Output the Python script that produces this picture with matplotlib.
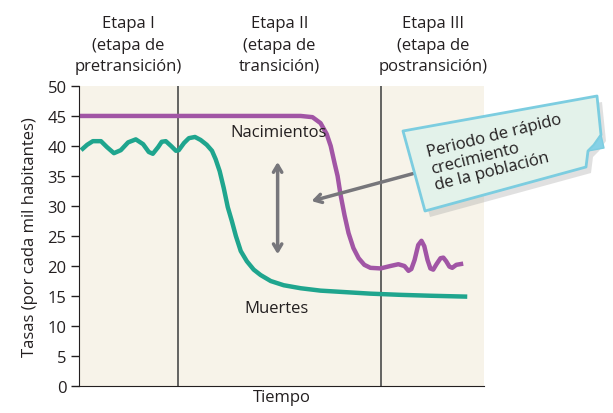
import matplotlib.pyplot as plt
from matplotlib.patches import Polygon
import numpy as np

# data (time in arbitrary units 0-100)
birth_t = [0, 54.7, 57.6, 59.6, 61.1, 62.1, 63.1, 63.8, 64.5, 65.5, 66.5, 67.7, 69.0, 70.4,
           71.9, 74.4, 76.8, 78.8, 80.3, 81.3, 82.0, 82.8, 83.7, 84.5, 85.2, 86.0, 86.7,
           87.4, 88.2, 89.2, 89.9, 90.6, 91.4, 92.1, 93.1, 94.8]
birth_rate = [45, 45, 44.8, 43.8, 42, 40, 37, 35, 32, 28.5, 25.5, 23, 21.3, 20.2,
              19.7, 19.6, 20.0, 20.3, 20.0, 19.2, 19.5, 21, 23.5, 24.2, 23.3, 21, 19.6,
              19.4, 20.3, 21.3, 21.4, 20.8, 19.9, 19.7, 20.2, 20.4]

death_t = [0.5, 2.0, 3.4, 5.4, 6.9, 8.6, 10.3, 12.1, 14.0, 15.8, 17.2, 18.2, 19.5, 20.4,
           21.4, 22.7, 23.9, 24.6, 25.9, 27.1, 28.6, 30.0, 31.5, 32.8, 33.7, 34.7, 35.7,
           36.7, 37.7, 38.7, 39.9, 41.4, 43.1, 44.8, 47.3, 50.5, 54.7, 59.6, 64.5, 71.9,
           79.3, 86.7, 95.8]
death_rate = [39.3, 40.2, 40.8, 40.8, 39.8, 38.8, 39.3, 40.6, 41.1, 40.3, 39, 38.7, 39.8, 40.7,
              40.8, 40.0, 39.2, 39.3, 40.5, 41.3, 41.5, 41.0, 40.2, 39.2, 37.8, 35.8, 33,
              29.8, 27.5, 25, 22.5, 20.8, 19.4, 18.5, 17.5, 16.8, 16.3, 15.9, 15.7, 15.4,
              15.2, 15.05, 14.9]

stage_bounds = [24.4, 74.6]
stage_labels = ['Etapa I\n(etapa de\npretransición)',
                'Etapa II\n(etapa de\ntransición)',
                'Etapa III\n(etapa de\npostransición)']
yticks = [0, 5, 10, 15, 20, 25, 30, 35, 40, 45, 50]
callout = 'Periodo de rápido\ncrecimiento\nde la población'

plt.rcParams['font.family'] = ['Open Sans', 'DejaVu Sans']

W, H = 613, 414
fig = plt.figure(figsize=(W / 100, H / 100), dpi=100)
ax = fig.add_axes([0.129, 0.065, 0.661, 0.725])
ax.set_facecolor('#f7f3e9')

purple = '#a155a5'
teal = '#1fa58e'
grey = '#77767b'
ink = '#231f20'

ax.plot(birth_t, birth_rate, color=purple, lw=3.2, solid_capstyle='butt', solid_joinstyle='round')
ax.plot(death_t, death_rate, color=teal, lw=3.2, solid_capstyle='butt', solid_joinstyle='round')

for b in stage_bounds:
    ax.axvline(b, color='#4a4a4a', lw=1.2, zorder=1)

edges = [0] + stage_bounds + [100]
for i, lab in enumerate(stage_labels):
    ax.text((edges[i] + edges[i + 1]) / 2, 52.0, lab, ha='center', va='bottom',
            fontsize=12, color=ink, linespacing=1.45, clip_on=False)

ax.set_xlim(0, 100)
ax.set_ylim(0, 50)
ax.set_yticks(yticks)
ax.set_xticks([])
ax.tick_params(axis='y', labelsize=12, length=6, width=1, colors=ink, pad=3)
for s in ['top', 'right']:
    ax.spines[s].set_visible(False)
ax.spines['left'].set_color(ink)
ax.spines['bottom'].set_color(ink)
ax.set_ylabel('Tasas (por cada mil habitantes)', fontsize=12, color=ink, labelpad=7)
ax.set_xlabel('Tiempo', fontsize=12, color=ink, labelpad=2)

ax.text(49.3, 42.3, 'Nacimientos', ha='center', va='center', fontsize=12, color=ink)
ax.text(48.8, 13.0, 'Muertes', ha='center', va='center', fontsize=12, color=ink)

ax.annotate('', xy=(49.0, 21.5), xytext=(49.0, 37.8),
            arrowprops=dict(arrowstyle='<->,head_length=0.5,head_width=0.3', color=grey, lw=2.5))
ax.annotate('', xy=(56.7, 30.7), xytext=(83.0, 35.5),
            arrowprops=dict(arrowstyle='->,head_length=0.5,head_width=0.3', color=grey, lw=2.5))

# callout note (pixel outline converted to figure fraction)
def fig_pts(pts, dx=0, dy=0):
    return [((x + dx) / W, 1 - (y + dy) / H) for x, y in pts]

box = [(403, 132), (597, 97), (601, 136), (594, 146), (588, 152), (586, 168), (425, 212)]
fold = [(601, 136), (604, 149), (588, 152), (594, 146)]
fig.add_artist(Polygon(fig_pts(box, 5, 6), closed=True, transform=fig.transFigure,
                       fc='#9a9a9a', ec='none', alpha=0.3))
fig.add_artist(Polygon(fig_pts(box), closed=True, transform=fig.transFigure,
                       fc='#e3f2ea', ec='#7ccde0', lw=2, joinstyle='round'))
fig.add_artist(Polygon(fig_pts(fold), closed=True, transform=fig.transFigure,
                       fc='#86d1e6', ec='#7ccde0', lw=1, joinstyle='round'))
fig.text(498 / W, 1 - 153 / H, callout, rotation=14,
         ha='center', va='center', multialignment='left', rotation_mode='anchor',
         fontsize=12, color=ink, linespacing=1.05)

fig.savefig('out.png', dpi=100)
